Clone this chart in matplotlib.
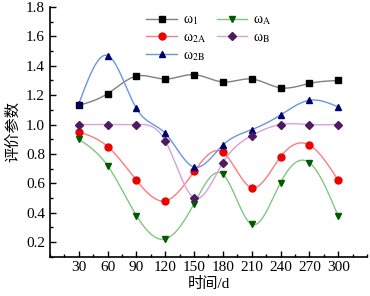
import numpy as np
import matplotlib
matplotlib.use('Agg')
import matplotlib.pyplot as plt
from matplotlib.ticker import MultipleLocator

plt.rcParams['font.family'] = ['Liberation Serif', 'Noto Sans CJK SC']
plt.rcParams['mathtext.fontset'] = 'stix'

# 数据
days = [30, 60, 90, 120, 150, 180, 210, 240, 270, 300]
w1 = [1.13, 1.21, 1.33, 1.31, 1.34, 1.29, 1.31, 1.25, 1.28, 1.30]
w2a = [0.95, 0.85, 0.62, 0.48, 0.68, 0.81, 0.57, 0.78, 0.86, 0.62]
w2b = [1.14, 1.47, 1.11, 0.94, 0.71, 0.86, 0.965, 1.065, 1.165, 1.12]
wa = [0.90, 0.72, 0.38, 0.22, 0.46, 0.66, 0.32, 0.605, 0.74, 0.375]
wb = [1.00, 1.00, 1.00, 0.89, 0.50, 0.74, 0.925, 1.00, 1.00, 1.00]


def spline(x, y, n=300):
    # natural cubic spline for smooth connecting curve
    x = np.asarray(x, float)
    y = np.asarray(y, float)
    k = len(x)
    h = np.diff(x)
    A = np.zeros((k, k))
    r = np.zeros(k)
    A[0, 0] = A[-1, -1] = 1
    for i in range(1, k - 1):
        A[i, i - 1] = h[i - 1]
        A[i, i] = 2 * (h[i - 1] + h[i])
        A[i, i + 1] = h[i]
        r[i] = 6 * ((y[i + 1] - y[i]) / h[i] - (y[i] - y[i - 1]) / h[i - 1])
    m = np.linalg.solve(A, r)
    xs = np.linspace(x[0], x[-1], n)
    idx = np.clip(np.searchsorted(x, xs) - 1, 0, k - 2)
    x0, x1 = x[idx], x[idx + 1]
    hh = x1 - x0
    t0 = x1 - xs
    t1 = xs - x0
    ys = (m[idx] * t0 ** 3 + m[idx + 1] * t1 ** 3) / (6 * hh) \
        + (y[idx] / hh - m[idx] * hh / 6) * t0 \
        + (y[idx + 1] / hh - m[idx + 1] * hh / 6) * t1
    return xs, ys


series = [
    (w1, 'ω$_\\mathrm{1}$', '#808080', 'black', 's'),
    (w2a, 'ω$_\\mathrm{2A}$', '#ff7b7b', '#ee0000', 'o'),
    (w2b, 'ω$_\\mathrm{2B}$', '#6a96e0', '#000070', '^'),
    (wa, 'ω$_\\mathrm{A}$', '#80c880', '#005a00', 'v'),
    (wb, 'ω$_\\mathrm{B}$', '#d8a0dc', '#501a60', 'D'),
]

fig = plt.figure(figsize=(3.7, 2.96), dpi=100)
ax = fig.add_axes([0.135, 0.133, 0.857, 0.843])

for vals, lab, lc, mc, mk in series:
    xs, ys = spline(days, vals)
    ax.plot(xs, ys, color=lc, lw=1, zorder=2)
    ms = 4 if mk == 'D' else 5
    ax.plot(days, vals, linestyle='none', marker=mk, color=mc, ms=ms, zorder=3)
    ax.plot([], [], color=lc, lw=1, marker=mk, mfc=mc, mec=mc, ms=ms, label=lab)

ax.set_xlim(0, 330)
ax.set_ylim(0.1, 1.8)
ax.set_xticks(days)
ax.xaxis.set_minor_locator(MultipleLocator(15))
ax.yaxis.set_minor_locator(MultipleLocator(0.1))
ax.tick_params(direction='in', labelsize=11, length=4, width=1)
ax.tick_params(which='minor', direction='in', length=2.5, width=1)
ax.set_yticks(np.arange(0.2, 1.81, 0.2))
ax.set_yticklabels([f'{v:.1f}' for v in np.arange(0.2, 1.81, 0.2)])

for s in ['top', 'right']:
    ax.spines[s].set_visible(False)
for s in ['left', 'bottom']:
    ax.spines[s].set_linewidth(1.2)

ax.set_xlabel('时间/d', fontsize=11, labelpad=2)
ax.set_ylabel('评价参数', fontsize=11, labelpad=4)

ax.legend(loc='upper left', bbox_to_anchor=(0.265, 1.025), ncol=2, frameon=False,
          fontsize=10, handlelength=2.2, handletextpad=0.4, columnspacing=0.8,
          labelspacing=0.3)

plt.savefig('out.png', dpi=100)
